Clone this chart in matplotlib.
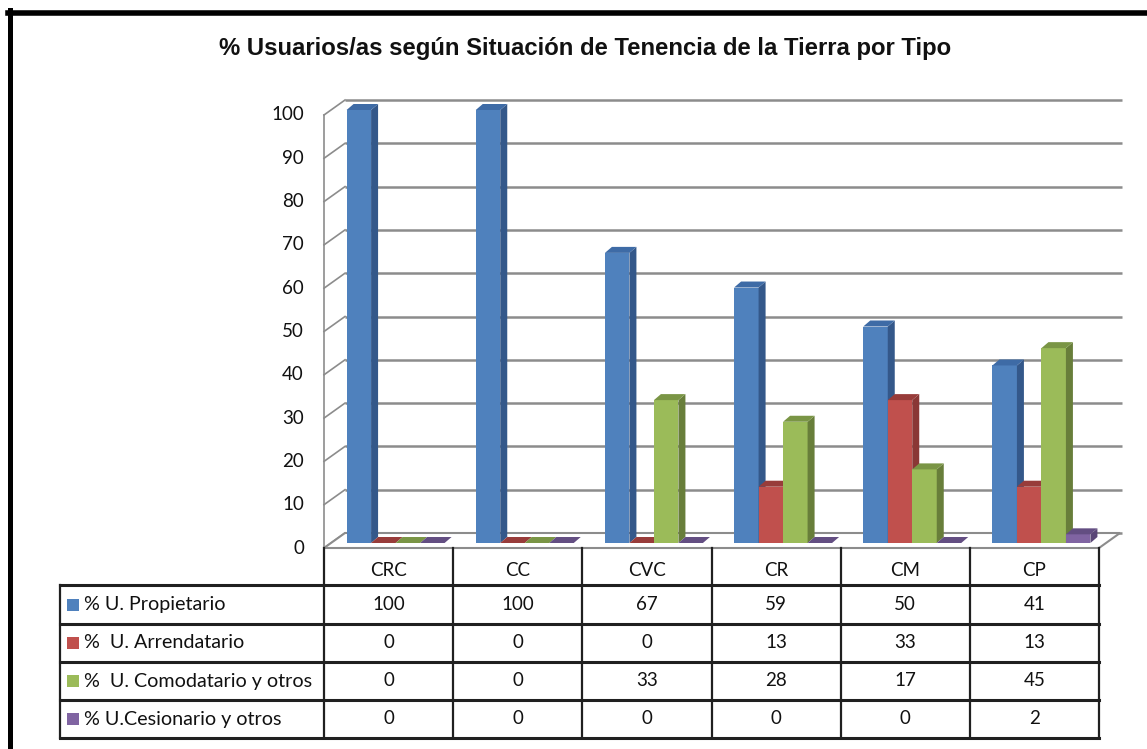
import matplotlib
matplotlib.use('Agg')
import matplotlib.pyplot as plt
from matplotlib.patches import Polygon, Rectangle
from matplotlib.lines import Line2D
import matplotlib.transforms as mtrans

# ---------------- data ----------------
categories = ['CRC', 'CC', 'CVC', 'CR', 'CM', 'CP']
series_names = ['% U. Propietario', '%  U. Arrendatario',
                '%  U. Comodatario y otros', '% U.Cesionario y otros']
propietario = [100, 100, 67, 59, 50, 41]
arrendatario = [0, 0, 0, 13, 33, 13]
comodatario = [0, 0, 33, 28, 17, 45]
cesionario = [0, 0, 0, 0, 0, 2]
y_ticks = [0, 10, 20, 30, 40, 50, 60, 70, 80, 90, 100]
title = '% Usuarios/as según Situación de Tenencia de la Tierra por Tipo'

series = [propietario, arrendatario, comodatario, cesionario]
front_cols = ['#4F81BD', '#C0504D', '#9BBB59', '#8064A2']
side_cols = ['#34588A', '#8A3735', '#687E3A', '#5A4676']
top_cols = ['#3E6BA6', '#983C3A', '#7A9545', '#634E82']

W, H = 1147, 749
fig = plt.figure(figsize=(W / 100, H / 100), dpi=100)
fig.patch.set_facecolor('white')

def fx(px):
    return px / W

def fy(py):
    return 1 - py / H

AX_L, AX_R, AX_B, AX_T = 324, 1099, 548, 115
ax = fig.add_axes([fx(AX_L), fy(AX_B), (AX_R - AX_L) / W, (AX_B - AX_T) / H])
ax.set_xlim(-0.5, len(categories) - 0.5)
ax.set_ylim(0, 100)
ax.axis('off')

ppx = (AX_R - AX_L) / len(categories)
ppy = (AX_B - AX_T) / 100.0

def ox(px):
    return px / ppx

def oy(px):
    return px / ppy

FONT = ['Lato', 'DejaVu Sans']
GRID = '#8c8c8c'

# ---------------- walls / floor ----------------
WDX, WDY = 21, 15
x_left, x_right = -0.5, len(categories) - 0.5
for t in y_ticks:
    ax.plot([x_left + ox(WDX), x_right + ox(WDX + 2)], [t + oy(WDY)] * 2,
            color=GRID, lw=1.8, clip_on=False, zorder=1, solid_capstyle='butt')
    ax.plot([x_left, x_left + ox(WDX)], [t, t + oy(WDY)], color=GRID, lw=1.2,
            clip_on=False, zorder=1)
    ax.text(x_left - ox(20), t, str(t), ha='right', va='center', fontsize=13.5,
            family=FONT, color='#111111')
ax.plot([x_left, x_left], [0, 100], color=GRID, lw=1.2, clip_on=False, zorder=1)

floor = Polygon([(x_left, 0), (x_right, 0), (x_right + ox(WDX), oy(WDY)),
                 (x_left + ox(WDX), oy(WDY))], closed=True, facecolor='white',
                edgecolor=GRID, lw=1.5, clip_on=False, zorder=1.5)
ax.add_patch(floor)

# ---------------- bars ----------------
BDX, BDY = 7, 5
bdx, bdy = 7, 6
w = 24.5 / ppx
z = 2.0
for i in range(len(categories)):
    for j, vals in enumerate(series):
        v = vals[i]
        x0 = i - 2 * w + j * w + ox(BDX)
        y0 = oy(BDY)
        if v > 0:
            ax.bar(x0, v, width=w, bottom=y0, align='edge', color=front_cols[j],
                   zorder=z, clip_on=False, linewidth=0)
        side = Polygon([(x0 + w, y0), (x0 + w, y0 + v),
                        (x0 + w + ox(bdx), y0 + v + oy(bdy)),
                        (x0 + w + ox(bdx), y0 + oy(bdy))], closed=True,
                       facecolor=side_cols[j], lw=0, zorder=z + 0.001, clip_on=False)
        top = Polygon([(x0, y0 + v), (x0 + w, y0 + v),
                       (x0 + w + ox(bdx), y0 + v + oy(bdy)),
                       (x0 + ox(bdx), y0 + v + oy(bdy))], closed=True,
                      facecolor=top_cols[j], lw=0, zorder=z + 0.002, clip_on=False)
        ax.add_patch(side)
        ax.add_patch(top)
        z += 0.01

# ---------------- data table ----------------
trans = mtrans.blended_transform_factory(ax.transData, fig.transFigure)
LINE = '#202020'
row_bounds = [585, 624, 662, 700, 738]
TAB_L = 60
for k in range(len(categories) + 1):
    xx = x_left + k
    fig.add_artist(Line2D([xx, xx], [fy(AX_B), fy(row_bounds[-1])], transform=trans,
                          color=LINE, lw=1.6, zorder=5))
fig.add_artist(Line2D([fx(TAB_L), fx(TAB_L)], [fy(row_bounds[0]), fy(row_bounds[-1])],
                      color=LINE, lw=1.6, zorder=5))
for rb in row_bounds:
    fig.add_artist(Line2D([fx(TAB_L), fx(AX_R)], [fy(rb), fy(rb)], color=LINE,
                          lw=2.2, zorder=5))

for i, c in enumerate(categories):
    fig.text(i, fy(570), c, transform=trans, ha='center', va='center',
             fontsize=13.5, family=FONT, color='#111111')

for j, (name, vals) in enumerate(zip(series_names, series)):
    yc = (row_bounds[j] + row_bounds[j + 1]) / 2
    fig.add_artist(Rectangle((fx(67), fy(yc + 6)), 12 / W, 12 / H,
                             transform=fig.transFigure, facecolor=front_cols[j],
                             lw=0))
    fig.text(fx(84), fy(yc), name, ha='left', va='center', fontsize=14.2,
             family=FONT, color='#111111')
    for i, v in enumerate(vals):
        fig.text(i, fy(yc), str(v), transform=trans, ha='center', va='center',
                 fontsize=13.5, family=FONT, color='#111111')

# ---------------- title & frame ----------------
fig.text(fx(585), fy(49), title, ha='center', va='center', fontsize=17.2,
         fontweight='bold', family=['Liberation Sans', 'DejaVu Sans'],
         color='#111111')
fig.add_artist(Line2D([fx(10), fx(10)], [fy(10), 0], color='black', lw=3.6))
fig.add_artist(Line2D([fx(8), 1], [fy(13), fy(13)], color='black', lw=4.0))

fig.savefig('out.png', dpi=100, facecolor='white')
